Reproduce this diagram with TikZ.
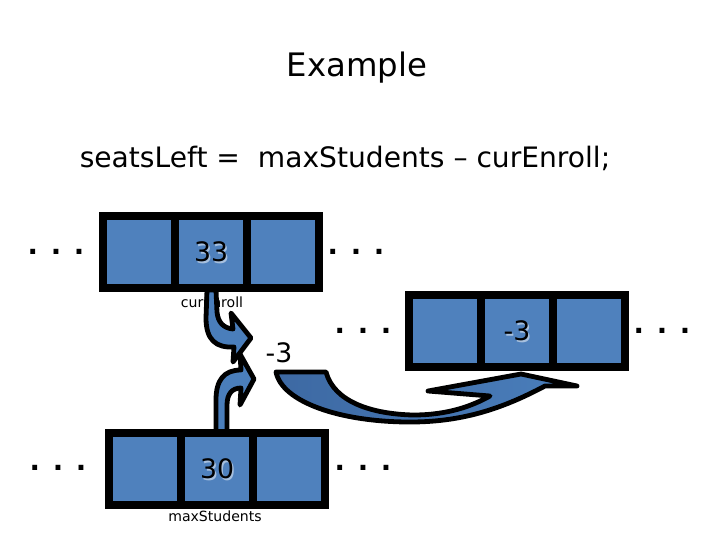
\documentclass[tikz,border=0pt]{standalone}
\usepackage{fontspec}
\setmainfont{DejaVu Sans}
\usetikzlibrary{positioning}
\definecolor{cellblue}{HTML}{4F81BD}
\definecolor{arrowblue}{HTML}{4A7EBB}
\definecolor{darkarrow}{HTML}{3D69A3}
\definecolor{shadowblue}{HTML}{A7C0DE}
\begin{document}
\begin{tikzpicture}[x=0.025cm,y=-0.025cm,
  cell/.style={draw=black,fill=cellblue,line width=0.2cm,minimum width=1.8cm,minimum height=1.8cm,inner sep=0pt,outer sep=0pt},
  val/.style={font=\fontsize{19}{22}\selectfont},
  valshadow/.style={val,text=shadowblue},
  dots/.style={font=\bfseries\fontsize{19.5}{22}\selectfont},
  varname/.style={font=\fontsize{10}{12}\selectfont},
  bendarrow/.style={draw=black,fill=arrowblue,line width=0.12cm,line join=round}]
\useasboundingbox (0,0) rectangle (720,540);

% heading and statement
\node[font=\fontsize{23}{27}\selectfont] (title) at (357,68) {Example};
\node[font=\fontsize{20}{24}\selectfont] (stmt) at (345,158) {seatsLeft = \ maxStudents – curEnroll;};

% variable names
\node[varname] (curname) at (212,302) {curEnroll};
\node[varname] (maxname) at (215,516) {maxStudents};
\node[val] (diff) at (279,353) {-3};

% fetch arrows
\path[bendarrow] (207,290) -- (206,318) .. controls (206,340) and (216,348) .. (234,347)
  -- (233,362) -- (251,338) -- (231,313) -- (233,329)
  .. controls (223,328) and (218,322) .. (217,312) -- (216,290) -- cycle;
\path[bendarrow] (216,432) -- (216,400) .. controls (216,380) and (224,370) .. (241,370)
  -- (240,354) -- (254,379) -- (240,405) -- (241,388)
  .. controls (232,388) and (227,394) .. (227,405) -- (227,432) -- cycle;

% store arrow
\path[bendarrow,left color=darkarrow,right color=arrowblue] (276,372) -- (326,372)
  .. controls (334,402) and (372,414) .. (413,415)
  .. controls (448,415) and (472,406) .. (490,396) -- (428,391) -- (521,374) -- (577,386)
  -- (545,386) .. controls (500,410) and (460,422) .. (410,422)
  .. controls (340,422) and (282,402) .. (276,372) -- cycle;

% memory: curEnroll
\node[cell] (t1) at (139,252) {};
\node[cell,right=0pt of t1] (t2) {};
\node[cell,right=0pt of t2] (t3) {};
\node[valshadow] at ([shift={(1.5,1.5)}]t2) {33};
\node[val] (tval) at (t2) {33};
\node[dots] (tl) at (56,252) {. . .};
\node[dots] (tr) at (356,252) {. . .};

% memory: seatsLeft
\node[cell] (r1) at (445,331) {};
\node[cell,right=0pt of r1] (r2) {};
\node[cell,right=0pt of r2] (r3) {};
\node[valshadow] at ([shift={(1.5,1.5)}]r2) {-3};
\node[val] (rval) at (r2) {-3};
\node[dots] (rl) at (363,331) {. . .};
\node[dots] (rr) at (662,331) {. . .};

% memory: maxStudents
\node[cell] (b1) at (145,469) {};
\node[cell,right=0pt of b1] (b2) {};
\node[cell,right=0pt of b2] (b3) {};
\node[valshadow] at ([shift={(1.5,1.5)}]b2) {30};
\node[val] (bval) at (b2) {30};
\node[dots] (bl) at (58,468) {. . .};
\node[dots] (br) at (363,468) {. . .};
\end{tikzpicture}
\end{document}
